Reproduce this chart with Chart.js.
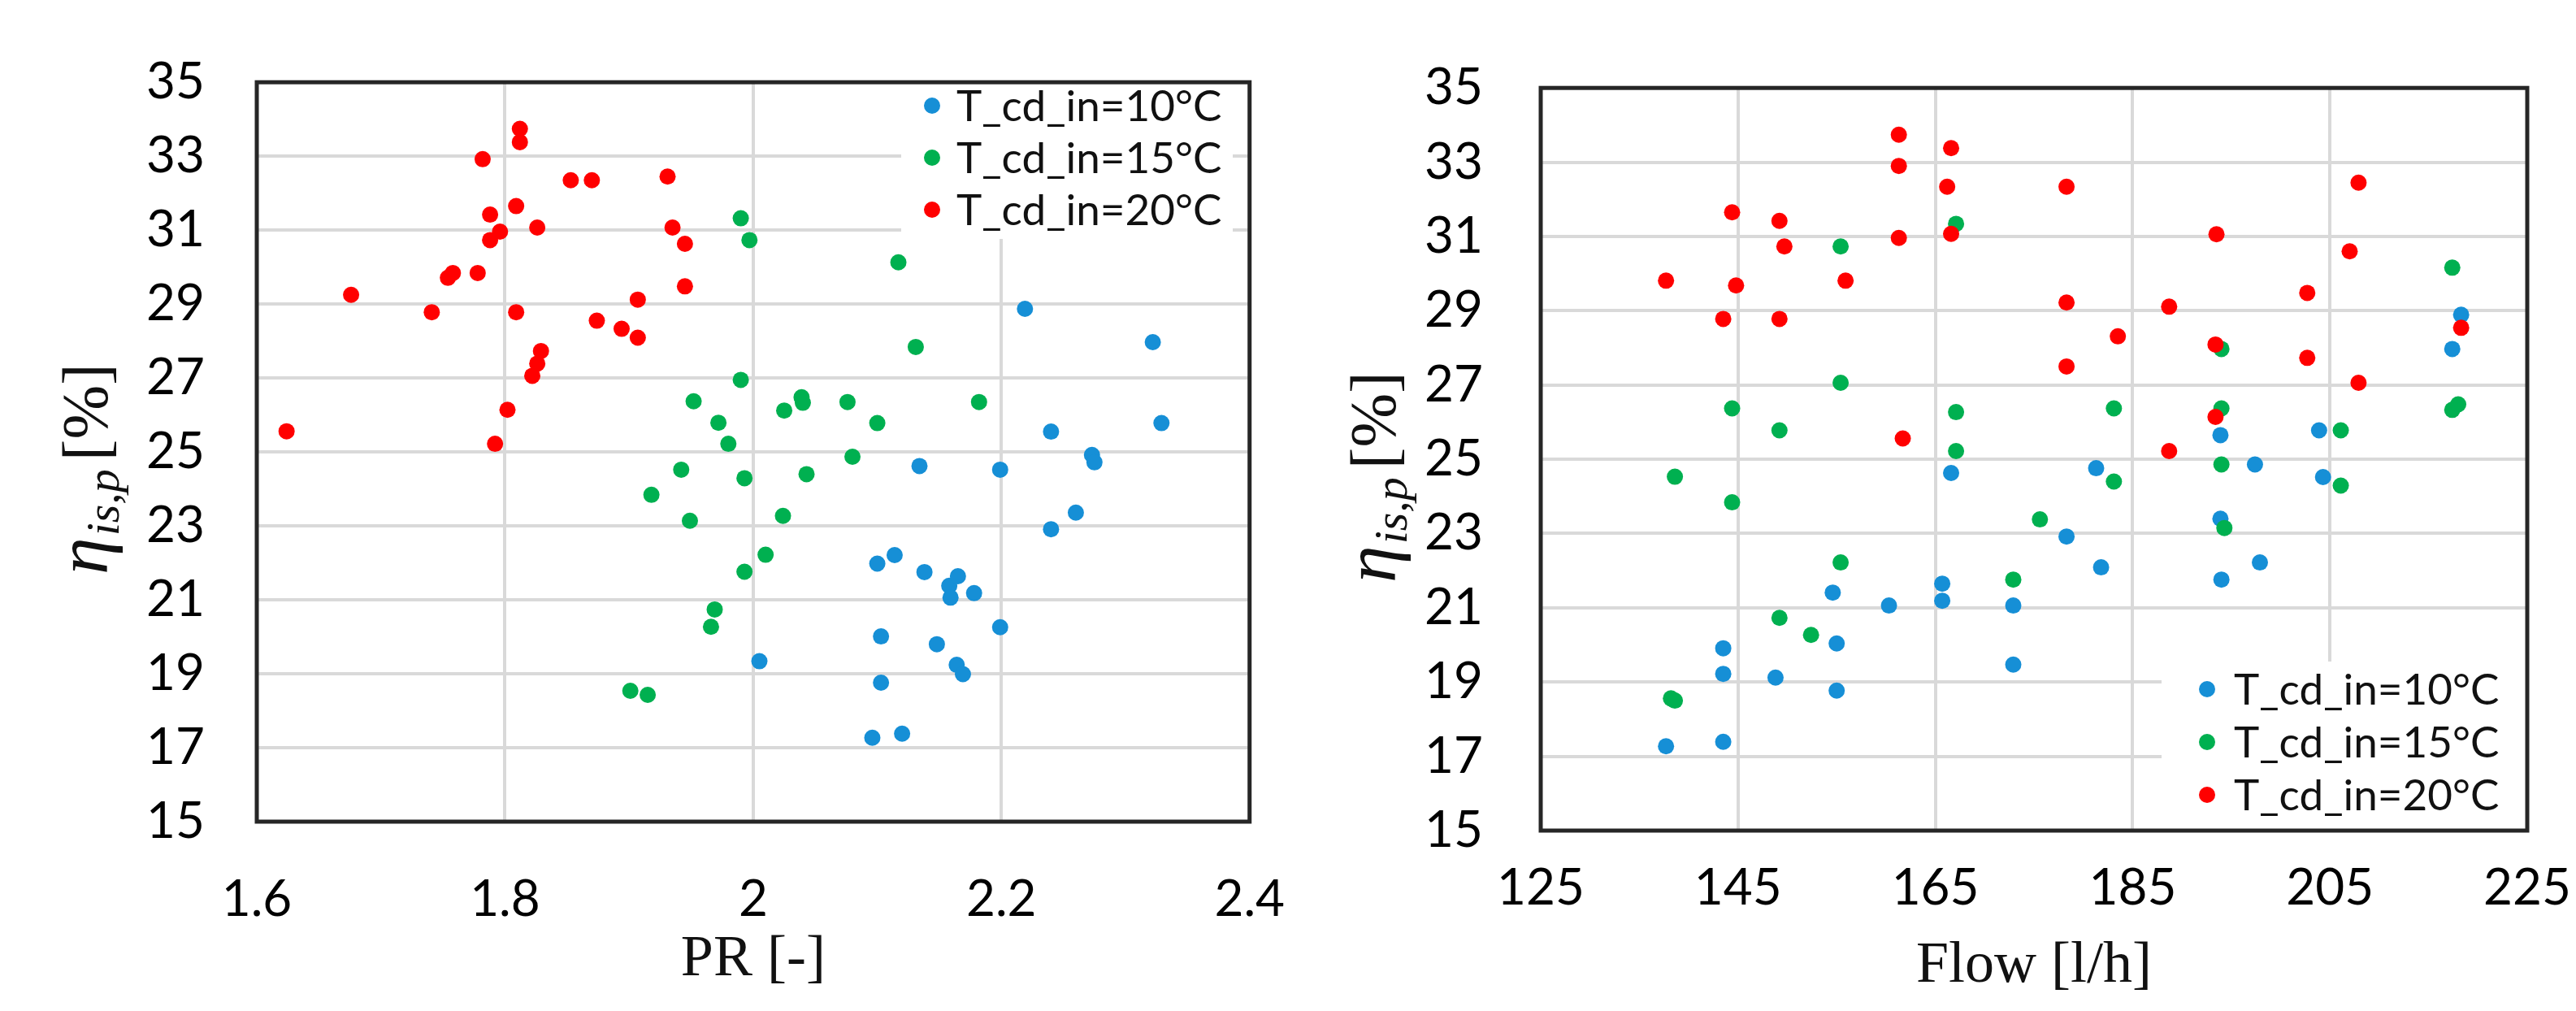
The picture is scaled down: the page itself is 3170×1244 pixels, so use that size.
<!DOCTYPE html>
<html>
<head>
<meta charset="utf-8">
<script src="https://cdn.jsdelivr.net/npm/chart.js@4.4.1/dist/chart.umd.min.js"></script>
<style>
html, body { margin: 0; padding: 0; background: #fff; overflow: hidden; }
#wrap { position: relative; width: 3170px; height: 1244px; }
canvas { position: absolute; top: 0; }
#prChart { left: 0; }
#flowChart { left: 1600px; }
</style>
</head>
<body>
<div id="wrap">
  <canvas id="prChart" width="1640" height="1244"></canvas>
  <canvas id="flowChart" width="1600" height="1244"></canvas>
</div>
<script>
// series labels
const seriesLabels = ['T_cd_in=10°C', 'T_cd_in=15°C', 'T_cd_in=20°C'];
const seriesColours = ['#168fd6', '#00b050', '#ff0000'];

// tick values
const effTicks = [15, 17, 19, 21, 23, 25, 27, 29, 31, 33, 35];
const prTicks = [1.6, 1.8, 2, 2.2, 2.4];
const flowTicks = [125, 145, 165, 185, 205, 225];

// left chart: PR [-] vs efficiency [%]
const prT10 = [[2.005,19.34],[2.096,17.27],[2.120,17.38],[2.103,18.76],[2.103,20.01],[2.100,21.98],[2.114,22.21],
  [2.134,24.62],[2.138,21.75],[2.148,19.80],[2.158,21.38],[2.159,21.06],[2.165,21.64],[2.164,19.24],[2.169,18.99],
  [2.178,21.18],[2.199,20.26],[2.199,24.52],[2.219,28.87],[2.240,25.55],[2.240,22.91],[2.260,23.36],[2.273,24.92],
  [2.275,24.72],[2.322,27.97],[2.329,25.78]];
const prT15 = [[1.901,18.54],[1.915,18.43],[1.918,23.84],[1.942,24.52],[1.949,23.14],[1.952,26.37],[1.966,20.27],
  [1.969,20.74],[1.972,25.79],[1.980,25.22],[1.990,31.32],[1.997,30.73],[1.990,26.95],[1.993,24.29],[1.993,21.76],
  [2.010,22.22],[2.024,23.27],[2.025,26.12],[2.039,26.48],[2.040,26.33],[2.043,24.40],[2.076,26.35],[2.080,24.87],
  [2.100,25.78],[2.117,30.13],[2.131,27.84],[2.182,26.35]];
const prT20 = [[1.624,25.56],[1.676,29.25],[1.741,28.78],[1.754,29.71],[1.758,29.84],[1.778,29.84],[1.782,32.92],
  [1.788,31.42],[1.788,30.73],[1.796,30.96],[1.792,25.22],[1.802,26.14],[1.809,31.65],[1.809,28.78],[1.812,33.74],
  [1.812,33.38],[1.826,31.07],[1.822,27.06],[1.826,27.39],[1.829,27.73],[1.853,32.35],[1.870,32.35],[1.874,28.55],
  [1.894,28.33],[1.907,29.12],[1.907,28.09],[1.931,32.45],[1.935,31.07],[1.945,30.63],[1.945,29.48]];

// right chart: Flow [l/h] vs efficiency [%]
const flowT10 = [[137.7,17.27],[143.5,17.39],[143.5,19.91],[143.5,19.22],[148.8,19.12],[154.6,21.41],[155.0,20.04],
  [155.0,18.77],[160.3,21.06],[165.7,21.65],[165.7,21.19],[166.6,24.63],[172.9,21.06],[172.9,19.47],[178.3,22.92],
  [181.3,24.76],[181.8,22.09],[193.9,25.65],[193.9,23.40],[194.0,21.76],[197.4,24.86],[197.9,22.22],[203.9,25.78],
  [204.3,24.52],[218.3,28.89],[217.4,27.97]];
const flowT15 = [[138.2,18.56],[138.6,18.50],[138.6,24.53],[144.4,26.37],[144.4,23.84],[149.2,25.78],[149.2,20.73],
  [152.4,20.27],[155.4,30.73],[155.4,27.06],[155.4,22.22],[167.1,31.34],[167.1,26.27],[167.1,25.22],[172.9,21.76],
  [175.6,23.38],[183.1,26.37],[183.1,24.40],[194.0,27.97],[194.0,26.37],[194.0,24.86],[194.3,23.15],[206.1,25.78],
  [206.1,24.29],[217.4,30.16],[217.4,26.33],[218.0,26.48]];
const flowT20 = [[137.7,29.81],[143.5,28.78],[144.4,31.65],[144.8,29.68],[149.2,31.42],[149.7,30.73],[149.2,28.78],
  [155.9,29.81],[161.3,33.74],[161.3,32.90],[161.3,30.96],[161.7,25.56],[166.6,33.38],[166.2,32.34],[166.6,31.07],
  [178.3,32.34],[178.3,29.22],[178.3,27.50],[183.5,28.31],[188.7,29.11],[188.7,25.22],[193.5,31.06],[193.4,28.09],
  [193.4,26.14],[202.7,29.48],[202.7,27.73],[207.0,30.60],[207.9,32.45],[207.9,27.06],[218.3,28.54]];

const TICK_FONT = { family: 'Lato', size: 62 };

// legend inside the plot, frame round the plot and the axis titles
const framePlugin = {
  id: 'frame',
  beforeDatasetsDraw(chart, args, opts) {
    const ctx = chart.ctx;
    const lg = opts.legend;
    ctx.save();
    ctx.fillStyle = '#fff';
    ctx.fillRect(lg.box[0], lg.box[1], lg.box[2], lg.box[3]);
    ctx.font = lg.font;
    ctx.textBaseline = 'middle';
    ctx.textAlign = 'left';
    chart.data.datasets.forEach(function (ds, i) {
      const y = lg.top + i * lg.rowGap;
      ctx.fillStyle = ds.backgroundColor;
      ctx.beginPath();
      ctx.arc(lg.left, y, lg.dot, 0, Math.PI * 2);
      ctx.fill();
      ctx.fillStyle = '#111';
      ctx.fillText(ds.label, lg.left + lg.textGap, y + lg.textShift);
    });
    ctx.restore();
  },
  afterDraw(chart, args, opts) {
    const ctx = chart.ctx;
    const a = chart.chartArea;
    ctx.save();
    ctx.strokeStyle = '#262626';
    ctx.lineWidth = 5;
    ctx.strokeRect(a.left, a.top, a.right - a.left, a.bottom - a.top);

    // x title
    ctx.fillStyle = '#111';
    ctx.font = '72px "Liberation Serif"';
    ctx.textAlign = 'center';
    ctx.textBaseline = 'alphabetic';
    ctx.fillText(opts.xTitle.text, (a.left + a.right) / 2, opts.xTitle.y);

    // y title, rotated, with subscript
    const yt = opts.yTitle;
    ctx.translate(yt.x, yt.y);
    ctx.rotate(-Math.PI / 2);
    ctx.textAlign = 'left';
    ctx.font = 'italic 92px "Liberation Serif"';
    ctx.fillText(yt.symbol, 0, 0);
    let w = ctx.measureText(yt.symbol).width + 2;
    ctx.font = 'italic 58px "Liberation Serif"';
    ctx.fillText(yt.sub, w, 14);
    w += ctx.measureText(yt.sub).width + 10;
    ctx.font = '80px "Liberation Serif"';
    ctx.fillText(yt.unit, w, 0);
    ctx.restore();
  }
};

function makeAxis(min, max, values, pad, fit) {
  return {
    type: 'linear',
    min: min,
    max: max,
    afterBuildTicks: function (s) { s.ticks = values.map(function (v) { return { value: v }; }); },
    afterFit: fit,
    ticks: {
      callback: function (v) { return String(v); },
      color: '#000',
      font: TICK_FONT,
      padding: pad,
      autoSkip: false,
      maxRotation: 0
    },
    grid: { color: '#d9d9d9', lineWidth: 4, drawTicks: false },
    border: { display: false }
  };
}

function makeDatasets(sets) {
  return sets.map(function (pts, i) {
    return {
      label: seriesLabels[i],
      data: pts.map(function (p) { return { x: p[0], y: p[1] }; }),
      backgroundColor: seriesColours[i],
      borderWidth: 0,
      pointRadius: 10,
      pointHoverRadius: 10,
      order: 2 - i
    };
  });
}

function buildChart(id, sets, xAxis, yAxis, padding, frame) {
  return new Chart(document.getElementById(id), {
    type: 'scatter',
    data: { datasets: makeDatasets(sets) },
    options: {
      responsive: false,
      animation: false,
      devicePixelRatio: 1,
      layout: { padding: padding },
      events: [],
      scales: { x: xAxis, y: yAxis },
      plugins: {
        legend: { display: false },
        tooltip: { enabled: false },
        frame: frame
      }
    },
    plugins: [framePlugin]
  });
}

Promise.all([
  document.fonts.load('62px Lato'),
  document.fonts.load('72px "Liberation Serif"'),
  document.fonts.load('italic 72px "Liberation Serif"')
]).catch(function () {}).then(function () {
  buildChart('prChart', [prT10, prT15, prT20],
    makeAxis(1.6, 2.4, prTicks, 59, function (s) { s.height = 233; }),
    makeAxis(15, 35, effTicks, 64, function (s) { s.width = 316; }),
    { top: 77, right: 67, left: 0, bottom: 0 },
    {
      legend: { box: [1109, 92, 408, 202], left: 1147, top: 130, rowGap: 64, dot: 10, textGap: 30, textShift: 2, font: '53px Lato' },
      xTitle: { text: 'PR [-]', y: 1200 },
      yTitle: { x: 132, y: 707, symbol: 'η', sub: 'is,p', unit: '[%]' }
    });

  buildChart('flowChart', [flowT10, flowT15, flowT20],
    makeAxis(125, 225, flowTicks, 34, function (s) { s.height = 222; }),
    makeAxis(15, 35, effTicks, 71, function (s) { s.width = 296; }),
    { top: 87, right: 90, left: 0, bottom: 0 },
    {
      legend: { box: [1060, 814, 450, 208], left: 1116, top: 848, rowGap: 65, dot: 10, textGap: 33, textShift: 2, font: '53px Lato' },
      xTitle: { text: 'Flow [l/h]', y: 1208 },
      yTitle: { x: 117, y: 717, symbol: 'η', sub: 'is,p', unit: '[%]' }
    });
});
</script>
</body>
</html>
